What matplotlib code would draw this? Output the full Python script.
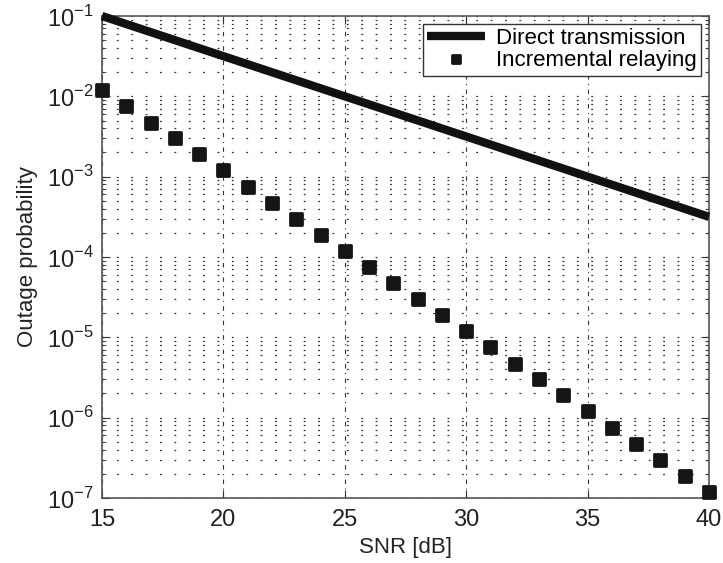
import numpy as np
import matplotlib
matplotlib.use("Agg")
import matplotlib.pyplot as plt
from matplotlib.markers import MarkerStyle

plt.rcParams['font.family'] = ['Liberation Sans', 'DejaVu Sans']
plt.rcParams['mathtext.fontset'] = 'custom'
plt.rcParams['mathtext.rm'] = 'Liberation Sans'

# data
snr_direct = [15, 20, 25, 30, 35, 40]
p_direct = [0.1, 0.0316, 0.01, 0.00316, 0.001, 0.000316]

snr_relay = list(range(15, 41))
p_relay = [1.2e-2, 7.5e-3, 4.7e-3, 3.0e-3, 1.9e-3,
           1.2e-3, 7.5e-4, 4.7e-4, 3.0e-4, 1.9e-4,
           1.2e-4, 7.5e-5, 4.7e-5, 3.0e-5, 1.9e-5,
           1.2e-5, 7.5e-6, 4.7e-6, 3.0e-6, 1.9e-6,
           1.2e-6, 7.5e-7, 4.7e-7, 3.0e-7, 1.9e-7,
           1.2e-7]

xticks = [15, 20, 25, 30, 35, 40]

fig = plt.figure(figsize=(7.23, 5.63), dpi=100)
ax = fig.add_axes([102/723, 1 - 498/563, (709-102)/723, (498-16)/563])

ax.plot(snr_direct, p_direct, color='#111111', lw=6, solid_capstyle='butt',
        label='Direct transmission', clip_on=False, zorder=3)
sq = MarkerStyle('s', joinstyle='round')
ax.plot(snr_relay, p_relay, ls='none', marker=sq, ms=9, mew=2, color='#151515',
        mec='#151515', label='Incremental relaying', clip_on=False, zorder=4)

ax.set_yscale('log')
ax.set_xlim(15, 40)
ax.set_ylim(1e-7, 1e-1)
ax.set_xticks(xticks)
ax.set_yticks([10.0**k for k in range(-7, 0)])
ax.set_yticklabels([r'$10^{%d}$' % k for k in range(-7, 0)])

ax.grid(True, which='major', axis='x', ls=(0, (4, 4, 1, 4)), color='#333333', lw=0.8)
ax.grid(True, which='both', axis='y', ls=(0, (1.5, 10)), color='#333333', lw=0.9)

ax.tick_params(which='both', direction='in', top=True, right=True,
               labelsize=17, colors='#333333', labelcolor='#222222')
ax.tick_params(which='major', length=6)
ax.tick_params(which='minor', length=3)
ax.tick_params(axis='x', pad=8)
ax.tick_params(axis='y', pad=6)
for s in ax.spines.values():
    s.set_color('#555555')
    s.set_linewidth(1.2)

ax.set_xlabel('SNR [dB]', fontsize=16, color='#222222', labelpad=4)
ax.set_ylabel('Outage probability', fontsize=16, color='#222222', labelpad=6)

leg = ax.legend(loc='upper right', fontsize=16, frameon=True, fancybox=False,
                handlelength=2.6, borderaxespad=0.35, borderpad=0.2,
                labelspacing=0.05, handletextpad=0.5, markerscale=0.7)
leg.get_frame().set_edgecolor('#333333')
leg.get_frame().set_linewidth(1.0)
leg.get_frame().set_alpha(1)

fig.savefig('out.png', dpi=100)
